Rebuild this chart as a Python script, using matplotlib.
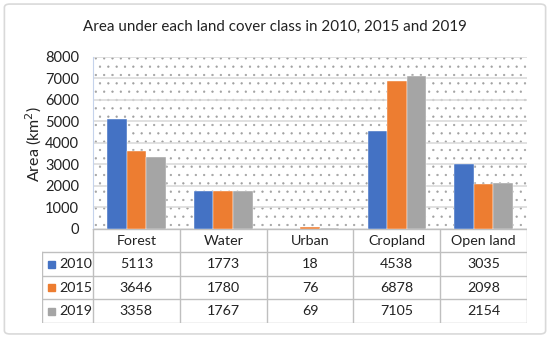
import numpy as np
import matplotlib
matplotlib.use("Agg")
import matplotlib.pyplot as plt
from matplotlib.patches import FancyBboxPatch, Rectangle

# data
classes = ["Forest", "Water", "Urban", "Cropland", "Open land"]
years = ["2010", "2015", "2019"]
area_2010 = [5113, 1773, 18, 4538, 3035]
area_2015 = [3646, 1780, 76, 6878, 2098]
area_2019 = [3358, 1767, 69, 7105, 2154]
yticks = [0, 1000, 2000, 3000, 4000, 5000, 6000, 7000, 8000]

series = [area_2010, area_2015, area_2019]
colors = ["#4472C4", "#ED7D31", "#A5A5A5"]
grid_col = "#D9D9D9"
table_col = "#BFBFBF"
txt_col = "#222222"

plt.rcParams["font.family"] = ["Lato", "DejaVu Sans"]
plt.rcParams["hatch.color"] = "#A0A0A0"
plt.rcParams["hatch.linewidth"] = 0.4

fig = plt.figure(figsize=(5.5, 3.38), dpi=100)

# outer frame
fig.patches.append(FancyBboxPatch((0.008, 0.012), 0.984, 0.976,
                                  boxstyle="round,pad=0,rounding_size=0.01",
                                  transform=fig.transFigure, fill=False,
                                  edgecolor="#D9D9D9", linewidth=1.2))

fig.text(0.5, 0.92, "Area under each land cover class in 2010, 2015 and 2019",
         ha="center", va="center", fontsize=10.9, color=txt_col)

ax = fig.add_axes([0.1691, 0.3225, 0.7891, 0.5089])
ax.patch.set_facecolor("white")
ax.patch.set_hatch("..")
ax.patch.set_edgecolor("#A0A0A0")
ax.patch.set_linewidth(0)

x = np.arange(len(classes))
w = 0.225
for i, vals in enumerate(series):
    ax.bar(x + (i - 1) * w, vals, width=w, color=colors[i], zorder=3,
           edgecolor="white", linewidth=0.3)

ax.set_xlim(-0.5, len(classes) - 0.5)
ax.set_ylim(0, 8000)
ax.set_yticks(yticks)
ax.set_yticklabels([str(t) for t in yticks], fontsize=10.5, color=txt_col)
ax.set_xticks([])
ax.tick_params(axis="y", length=0, pad=10)
ax.yaxis.grid(True, color=grid_col, linewidth=1.1, zorder=1)
ax.set_axisbelow(True)
for s in ["top", "right", "bottom"]:
    ax.spines[s].set_visible(False)
ax.spines["left"].set_color("#C5D3EC")

fig.text(0.062, 0.575, "Area (km$^2$)", rotation=90, ha="center", va="center",
         fontsize=11.5, color=txt_col)

# data table under the plot
legw = 0.588
tab = fig.add_axes([0.0764, 0.0444, 0.9582 - 0.0764, 0.2781])
tab.set_xlim(-0.5 - legw, len(classes) - 0.5)
tab.set_ylim(0, 4)
tab.axis("off")

lc = dict(color=table_col, linewidth=1.0)
tab.plot([-0.5, len(classes) - 0.5], [4, 4], **lc)
for yy in [3, 2, 1, 0]:
    tab.plot([-0.5 - legw, len(classes) - 0.5], [yy, yy], **lc)
tab.plot([-0.5 - legw, -0.5 - legw], [0, 3], **lc)
for k in range(len(classes) + 1):
    tab.plot([k - 0.5, k - 0.5], [0, 4], **lc)

for j, name in enumerate(classes):
    tab.text(j, 3.5, name, ha="center", va="center", fontsize=10.3, color=txt_col)
for i, vals in enumerate(series):
    yc = 2.5 - i
    for j, v in enumerate(vals):
        tab.text(j, yc, str(v), ha="center", va="center", fontsize=10.3, color=txt_col)
    tab.add_patch(Rectangle((-0.5 - legw + 0.07, yc - 0.15), 0.085, 0.3,
                            color=colors[i]))
    tab.text(-0.5 - legw + 0.2, yc, years[i], ha="left", va="center",
             fontsize=10.3, color=txt_col)

fig.savefig("out.png", dpi=100)
